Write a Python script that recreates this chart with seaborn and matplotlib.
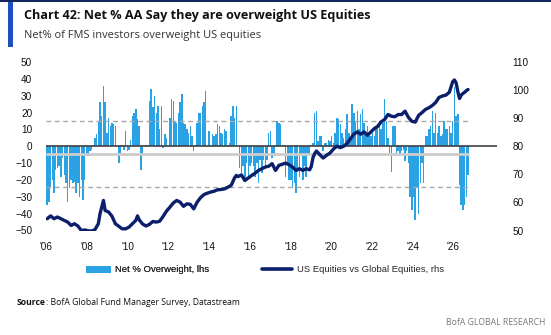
import numpy as np
import pandas as pd
import matplotlib
matplotlib.use("Agg")
import matplotlib.pyplot as plt
import seaborn as sns
from matplotlib.patches import Patch, Rectangle
from matplotlib.lines import Line2D

# Net % of FMS asset allocators overweight US equities, one value per survey month (lhs)
net_overweight = [
    -35, -33, -24, -20, -28, -14, -13, -12, -18, -7, -17, -22,
    -33, -25, -20, -22, -21, -28, -22, -30, -20, -32, -20, -5,
    -6, -3, -2, 1, 5, 7, 15, 26, 18, 36, 26, 8,
    17, 12, 14, 13, 12, 0, -10, -5, 1, -2, 9, -3,
    -2, 4, 18, 20, 22, 16, 12, -14, -6, 0, 1, 1,
    27, 34, 23, 30, 20, 24, 10, 24, -1, 7, 5, 0,
    17, 28, 27, 15, 14, 20, 26, 31, 14, 13, 10, 8,
    12, 6, -3, 1, 14, 20, 20, 24, 26, 33, 0, 9,
    0, 7, 6, 7, 13, 12, 8, 7, 10, 9, 1, 2,
    18, 24, 17, 24, 0, -13, -16, -12, -20, -10, -18, -12,
    -10, -12, -18, -10, -22, -8, -16, -8, -12, -8, 8, 9,
    -7, -6, 1, 15, 14, 13, 1, 1, -18, -10, -20, -20,
    -25, -22, -28, -15, -18, -5, -20, -12, -18, -5, -4, 1,
    2, 20, 21, 3, 6, 6, -3, 2, 2, 4, 3, 6,
    2, 8, 17, 16, 13, 8, 5, 10, 19, 8, 5, 25,
    20, 15, 21, 10, 19, 22, 14, 7, 12, 6, 6, 8,
    6, 10, 12, 15, 10, 14, 28, 15, 5, -4, -15, 12,
    12, -4, -3, -5, -3, -2, -9, -3, -10, -30, -38, -30,
    -44, -25, -40, -22, -10, -22, 6, 6, 10, 12, 21, 8,
    20, 8, 12, 6, 7, 15, 10, 10, 12, 8, 15, 35,
    18, 19, -23, -35, -38, -35, -30, -17,
]

# US equities vs global equities relative index (rhs), by survey month index
rel_month = [
    0, 2, 4, 6, 8, 10, 12, 14, 16, 18, 20, 22, 24, 26, 28, 30, 31, 32, 33, 34,
    36, 38, 40, 42, 44, 46, 48, 50, 52, 53, 54, 56, 58, 60, 62, 64, 66, 68, 70, 72,
    74, 76, 78, 80, 82, 84, 86, 88, 90, 92, 94, 96, 98, 100, 102, 104, 106, 108, 110, 111,
    112, 114, 116, 118, 120, 122, 124, 126, 128, 130, 132, 134, 136, 138, 140, 142, 144, 146, 148, 150,
    152, 154, 155, 156, 157, 158, 160, 162, 164, 166, 168, 170, 172, 174, 176, 178, 180, 182, 184, 186,
    188, 190, 192, 194, 196, 198, 200, 202, 204, 206, 208, 210, 212, 214, 216, 218, 220, 222, 224, 226,
    228, 230, 232, 234, 236, 238, 239, 240, 241, 242, 243, 244, 245, 246, 247,
]
rel_index = [
    54.2, 55.2, 54.2, 54.8, 54.2, 53.6, 53.0, 51.8, 52.4, 51.6, 50.0, 50.2, 49.9, 49.8, 50.3, 52.4, 56.0, 58.3, 60.7, 57.1,
    56.6, 55.1, 52.4, 51.5, 50.6, 50.6, 51.2, 52.4, 53.6, 55.2, 53.8, 52.3, 51.6, 52.2, 53.2, 53.0, 53.3, 55.0, 56.9, 58.3,
    59.8, 60.7, 60.1, 58.6, 59.5, 59.3, 57.7, 60.1, 61.7, 62.8, 63.3, 63.7, 64.0, 64.5, 64.6, 64.8, 65.4, 66.1, 68.8, 69.6,
    69.2, 69.8, 67.8, 68.7, 69.6, 70.4, 71.4, 72.0, 72.6, 72.9, 73.8, 71.4, 73.2, 73.6, 74.0, 73.4, 72.6, 71.4, 72.0, 71.4,
    72.0, 71.6, 72.8, 76.0, 77.4, 78.3, 77.0, 75.8, 76.8, 77.6, 79.0, 80.0, 79.5, 80.0, 81.0, 82.7, 84.3, 85.1, 84.3, 85.1,
    83.9, 85.1, 86.3, 87.1, 88.7, 89.5, 91.3, 90.7, 90.5, 91.3, 91.3, 92.5, 90.3, 88.9, 88.6, 91.0, 92.0, 93.1, 93.7, 94.5,
    95.6, 97.4, 97.9, 98.2, 99.2, 103.0, 103.6, 102.6, 99.5, 97.0, 98.2, 98.8, 99.2, 99.8, 100.2,
]

year_labels = ["'06", "'08", "'10", "'12", "'14", "'16", "'18", "'20", "'22", "'24", "'26"]

long_run_avg = -4.7
band_upper = 15.2
band_lower = -24.4

BAR_BLUE = "#2ba2e4"
NAVY = "#0b1f6b"

sns.set_theme(style="white")
plt.rcParams["font.family"] = ["Liberation Sans", "DejaVu Sans"]
HEAD_FONT = ["Open Sans", "DejaVu Sans"]

W, H = 551, 335
fig = plt.figure(figsize=(W / 100, H / 100), dpi=100)


def fx(px):
    return px / W


def fy(py):
    return 1 - py / H


ax = fig.add_axes([fx(46.2), fy(230.5), fx(497) - fx(46.2), fy(62) - fy(230.5)])

months = np.arange(len(net_overweight))
bars = pd.DataFrame({"month": months, "net": net_overweight})
sns.barplot(data=bars, x="month", y="net", native_scale=True, color=BAR_BLUE,
            saturation=1, width=0.85, errorbar=None, linewidth=0, ax=ax, zorder=1)

ax.set_xlim(-0.6, 264)
ax.set_ylim(-50, 50)
ax.set_yticks(np.arange(-50, 51, 10))
tick_pos = np.arange(len(year_labels)) * 23.9 - 0.6
ax.set_xticks(tick_pos)
ax.set_xticklabels(year_labels)
ax.set_xlabel("")
ax.set_ylabel("")
for s in ax.spines.values():
    s.set_visible(False)
ax.tick_params(axis="both", length=0, labelsize=7.2, colors="#111111")
ax.tick_params(axis="x", pad=8)
ax.tick_params(axis="y", pad=10)

last = len(net_overweight) - 1
ax.hlines([band_upper, band_lower], -0.6, last + 0.5, colors="#a8a8a8",
          linestyles=(0, (3.5, 2.5)), linewidth=1.0, zorder=2)
ax.hlines(long_run_avg, -0.6, last + 0.5, colors="#cccccc", linewidth=2.0, zorder=2)
ax.axhline(0, color="#404040", linewidth=1.2, zorder=3)

ax2 = ax.twinx()
sns.lineplot(x=rel_month, y=rel_index, ax=ax2, color=NAVY, linewidth=2.4, zorder=4)
ax2.set_ylim(50, 110)
ax2.set_yticks(np.arange(50, 111, 10))
ax2.set_xlim(-0.6, 264)
for s in ax2.spines.values():
    s.set_visible(False)
ax2.tick_params(axis="y", length=0, labelsize=7.2, colors="#111111", pad=11)
ax2.set_ylabel("")
ax2.grid(False)
ax.grid(False)

# legend
leg1 = fig.legend(handles=[Patch(facecolor=BAR_BLUE, edgecolor="none")],
                  labels=["Net % Overweight, lhs"], loc="center left",
                  bbox_to_anchor=(fx(81), fy(270)), frameon=False, fontsize=6.8,
                  handlelength=2.7, handleheight=0.8, handletextpad=0.4, borderpad=0)
leg2 = fig.legend(handles=[Line2D([0], [0], color=NAVY, linewidth=2.6)],
                  labels=["US Equities vs Global Equities, rhs"], loc="center left",
                  bbox_to_anchor=(fx(257), fy(270)), frameon=False, fontsize=6.8,
                  handlelength=3.2, handletextpad=0.5, borderpad=0)
fig.add_artist(leg1)

# header
fig.add_artist(Line2D([0, 1], [fy(0.7), fy(0.7)], color="#0b1f5b", linewidth=1.4))
fig.add_artist(Rectangle((fx(7.5), fy(47)), fx(5), fy(2) - fy(47), facecolor="#1f50c0",
                         edgecolor="none"))
fig.text(fx(24), fy(19.3), "Chart 42: Net % AA Say they are overweight US Equities",
         fontsize=9.1, fontweight="bold", family=HEAD_FONT, color="#111111", va="baseline")
fig.text(fx(24), fy(37.8), "Net% of FMS investors overweight US equities",
         fontsize=7.9, family=HEAD_FONT, color="#333333", va="baseline")

# footer
src_bold = fig.text(fx(17), fy(305), "Source", fontsize=6.2, fontweight="bold",
                    family=HEAD_FONT, color="#111111", va="baseline")
fig.canvas.draw()
bb = src_bold.get_window_extent()
fig.text(bb.x1 / W, fy(305), ": BofA Global Fund Manager Survey, Datastream",
         fontsize=6.2, family=HEAD_FONT, color="#111111", va="baseline")
fig.text(fx(545), fy(325), "BofA GLOBAL RESEARCH", fontsize=6.2, ha="right",
         family=HEAD_FONT, color="#777777", va="baseline")

fig.savefig("out.png", dpi=100)
